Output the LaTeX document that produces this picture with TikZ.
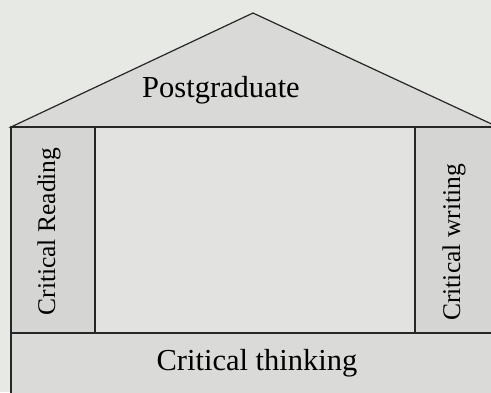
\documentclass[tikz,border=0pt]{standalone}
\usepackage{fontspec}
\setmainfont{Liberation Serif}
\definecolor{bg}{HTML}{E7E9E5}
\definecolor{roof}{HTML}{D9DAD7}
\definecolor{col}{HTML}{D5D6D3}
\definecolor{mid}{HTML}{E2E3E0}
\definecolor{base}{HTML}{DADBD8}
\begin{document}
\begin{tikzpicture}[x=1pt,y=-1pt,
  part/.style={draw=black!85,line width=1.2pt},
  lbl/.style={font=\fontsize{30.5}{30.5}\selectfont,inner sep=0pt},
  vlbl/.style={font=\fontsize{25.5}{25.5}\selectfont,inner sep=0pt,rotate=90}]
\useasboundingbox (0,0) rectangle (491,392);
\fill[bg] (0,0) rectangle (491,392);
\coordinate (apex) at (253,13);
\coordinate (bl) at (11,127);
\coordinate (br) at (498,127);
\filldraw[part,fill=roof] (bl) -- (apex) -- (br) -- cycle;
\filldraw[part,fill=col] (11,127) rectangle (95,333);
\filldraw[part,fill=mid] (95,127) rectangle (415,333);
\filldraw[part,fill=col] (415,127) rectangle (500,333);
\filldraw[part,fill=base] (11,333) rectangle (500,400);
\node[lbl] (pg) at (221,90) {Postgraduate};
\node[vlbl] (cr) at (49,231.5) {Critical Reading};
\node[vlbl] (cw) at (454,242.5) {Critical writing};
\node[lbl] (ct) at (257,363) {Critical thinking};
\end{tikzpicture}
\end{document}
